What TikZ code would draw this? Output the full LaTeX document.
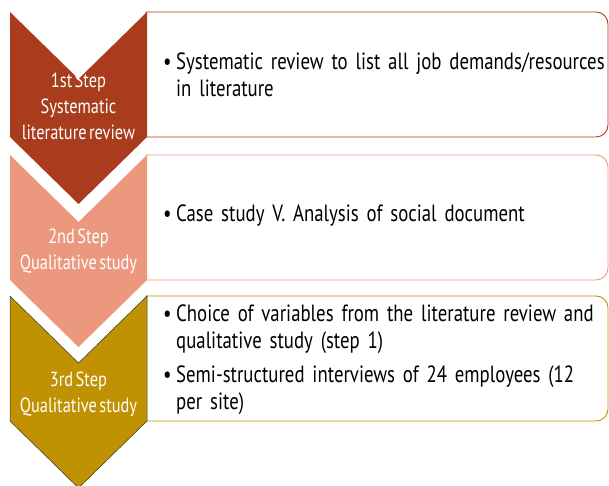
\documentclass[tikz,border=0pt]{standalone}
\usepackage{fontspec}
\setmainfont[FakeStretch=0.8,WordSpace=0.55]{PT Sans}
\usetikzlibrary{positioning}

\definecolor{rust}{RGB}{168,60,28}
\definecolor{salmon}{RGB}{236,152,126}
\definecolor{gold}{RGB}{192,145,0}

\newcommand{\bulitem}[1]{\noindent\makebox[13pt][l]{\textbullet}\parbox[t]{440pt}{\raggedright\hyphenpenalty=10000 #1}}

\begin{document}
\begin{tikzpicture}[x=1pt,y=1pt,
chev/.style={line join=miter},
panel/.style={line width=0.9pt, fill=white},
steptxt/.style={text=white, align=center, font=\fontsize{20.5}{26}\selectfont},
itemtxt/.style={anchor=west, text width=454pt, align=left, inner sep=0pt, font=\fontsize{23.5}{27}\selectfont}
]
\useasboundingbox (0,0) rectangle (609,486);

% panels behind the chevrons
\draw[panel, draw=rust] (146,474) -- (596,474) arc[start angle=90,end angle=0,radius=12] -- (608,361) arc[start angle=0,end angle=-90,radius=12] -- (146,349) -- cycle;
\draw[panel, draw=salmon] (146,331) -- (596,331) arc[start angle=90,end angle=0,radius=12] -- (608,218) arc[start angle=0,end angle=-90,radius=12] -- (146,206) -- cycle;
\draw[panel, draw=gold] (146,190) -- (596,190) arc[start angle=90,end angle=0,radius=12] -- (608,77) arc[start angle=0,end angle=-90,radius=12] -- (146,65) -- cycle;

% chevrons
\fill[chev, rust] (10,474) -- (78.5,407) -- (147,474) -- (147,349) -- (78.5,282) -- (10,349) -- cycle;
\fill[chev, salmon] (10,331) -- (78.5,264) -- (147,331) -- (147,206) -- (78.5,139) -- (10,206) -- cycle;
\filldraw[chev, fill=gold, draw=black!80, line width=0.5pt] (10,190) -- (78.5,123) -- (147,190) -- (147,65) -- (78.5,-2) -- (10,65) -- cycle;

% step labels
\node[steptxt] (one) at (78.5,379.5) {1st Step\\Systematic\\literature review};
\node[steptxt] (two) at (78.5,235) {2nd Step\\Qualitative study};
\node[steptxt] (three) at (78.5,91.5) {3rd Step\\Qualitative study};

% panel texts
\node[itemtxt] (revw) at (163,411.5) {\bulitem{Systematic review to list all job demands/resources\\in literature}};
\node[itemtxt] (case) at (163,270) {\bulitem{Case study V. Analysis of social document}};
\node[itemtxt] (vars) at (163,126) {\bulitem{Choice of variables from the literature review and\\qualitative study (step 1)}\par\vspace{11pt}\bulitem{Semi-structured interviews of 24 employees (12\\per site)}};
\end{tikzpicture}
\end{document}
